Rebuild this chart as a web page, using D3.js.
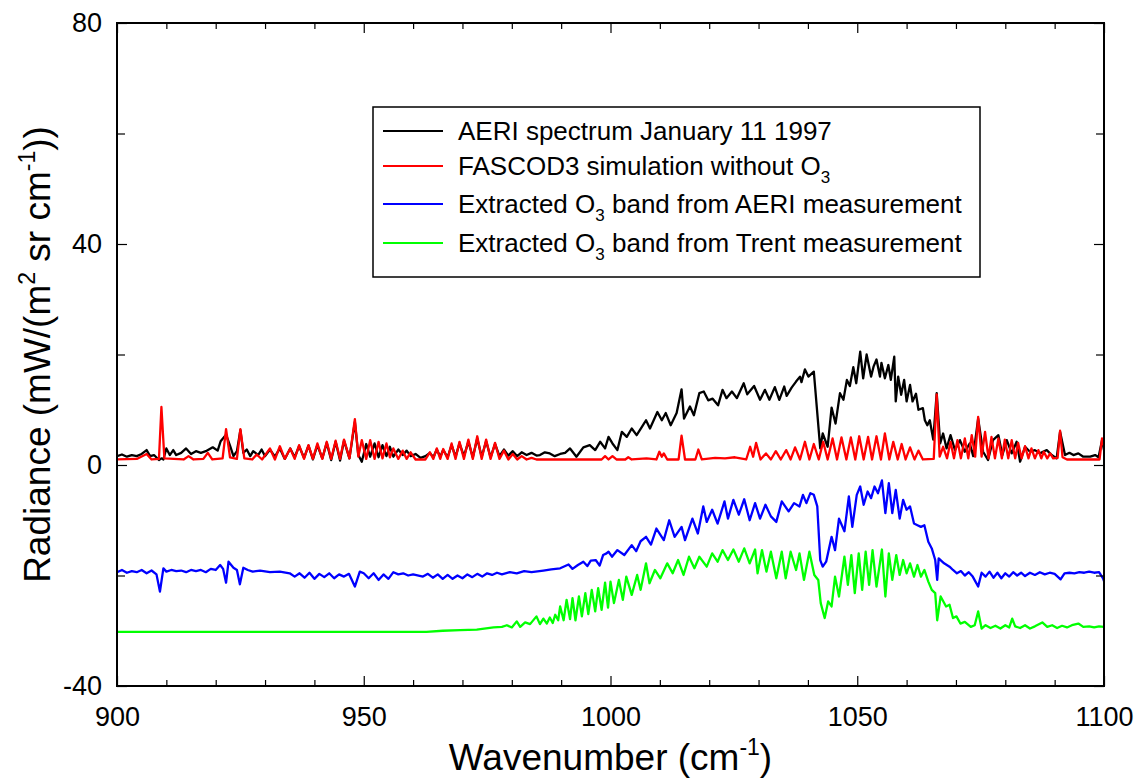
<!DOCTYPE html>
<html>
<head>
<meta charset="utf-8">
<script src="https://cdn.jsdelivr.net/npm/d3@7"></script>
<style>
  body { margin: 0; background: #fff; }
  svg { display: block; font-family: "Liberation Sans", Arial, sans-serif; }
</style>
</head>
<body>
<svg id="chart" width="1137" height="780"></svg>
<script>
// tick values
var xTicks = [900, 950, 1000, 1050, 1100];
var xMinor = [910, 920, 930, 940, 960, 970, 980, 990, 1010, 1020, 1030, 1040, 1060, 1070, 1080, 1090];
var yTicks = [-40, 0, 40, 80];
var yMinor = [-20, 20, 60];

// AERI spectrum, [wavenumber, radiance]
var aeri = [[900,1.6],[901,1.9],[902,1.5],[903,1.8],[904,1.6],[905,2.0],[906,2.7],[906.7,1.6],[907.5,1.8],[908.5,0.9],[909,1.2],[909.4,1.0],[910,3.0],[910.7,1.8],[911.4,2.7],[912,1.8],[913,2.2],[914,3.0],[915,2.0],[916,2.5],[917,2.2],[918,2.5],[919.4,3.2],[920.4,2.6],[921,4.3],[922.1,5.5],[922.9,3.5],[923.6,1.6],[924.3,2.5],[925,6.3],[925.6,2.2],[926.3,2.8],[927,1.6],[927.6,2.5],[928.6,1.8],[929.3,2.8],[930,1.6],[931,2.8],[932,1.5],[933,3.0],[934,1.1],[935.1,3.0],[936,1.4],[936.9,3.4],[937.9,1.3],[938.8,3.5],[939.7,1.0],[940.6,3.6],[941.6,1.2],[942.5,4.0],[943.4,0.9],[944.3,4.2],[945.2,0.8],[946,4.4],[947.1,1.2],[948.2,7.8],[948.9,1.8],[949.6,0.6],[950.5,3.8],[951.3,1.5],[952.2,3.9],[953,1.4],[953.8,3.6],[954.6,1.6],[955.3,3.3],[956,1.5],[957,2.8],[957.9,1.8],[958.7,2.6],[959.5,1.6],[960.5,2.0],[961.5,1.3],[962.5,1.6],[963.4,2.2],[964.1,1.4],[964.8,2.8],[965.5,1.5],[966.1,2.7],[967,1.4],[967.8,3.6],[968.6,1.5],[969.4,3.9],[970.3,1.6],[971.2,4.2],[972.1,1.4],[973,4.8],[973.9,1.5],[974.8,4.3],[975.7,1.4],[976.6,3.8],[977.5,1.6],[978.4,2.8],[979.3,1.7],[980.2,2.5],[981.1,1.6],[982,2.3],[983,1.8],[984,2.2],[985,1.7],[985.7,1.8],[986.7,2.3],[987.7,2.1],[988.7,1.6],[989.8,2.0],[990.8,2.2],[991.8,3.0],[993.1,1.5],[994.5,3.2],[995.8,3.6],[996.9,2.7],[997.9,4.2],[998.9,3.0],[999.6,5.1],[1000.4,3.9],[1001.4,2.7],[1002.3,6.0],[1003.3,5.1],[1004.3,6.6],[1005.3,5.4],[1006.3,6.8],[1007.2,8.1],[1008,6.6],[1009.5,9.6],[1010.4,8.1],[1011.2,9.4],[1012.2,7.2],[1013.4,9.4],[1014.4,13.7],[1014.9,8.4],[1016.1,10.6],[1016.9,9.0],[1018,13.0],[1018.9,13.3],[1019.8,11.7],[1020.7,12.0],[1021.8,10.8],[1022.7,13.6],[1023.5,12.1],[1024.6,13.3],[1025.6,12.1],[1027,14.8],[1027.7,12.8],[1029.1,14.3],[1030.3,11.8],[1031.3,13.6],[1032.2,11.8],[1033.3,14.1],[1034.2,11.8],[1035.2,14.2],[1035.7,12.5],[1036.7,14.0],[1037.6,15.1],[1038.4,16.0],[1038.7,15.0],[1039.4,17.3],[1040.1,16.0],[1041.2,16.9],[1042.5,3.0],[1043,5.7],[1044,3.3],[1044.8,10.4],[1045.6,7.5],[1046.5,13.0],[1047.2,11.8],[1047.9,15.4],[1048.5,14.3],[1049.2,17.7],[1049.8,14.8],[1050.6,20.5],[1051.2,15.7],[1051.9,20.0],[1052.8,16.0],[1053.3,17.8],[1053.9,19.1],[1054.6,16.0],[1054.9,18.5],[1055.6,15.7],[1056.3,18.1],[1056.8,15.4],[1057.5,19.6],[1057.8,11.5],[1058.3,16.0],[1058.9,12.7],[1059.5,15.4],[1060,11.5],[1060.7,14.5],[1061.2,11.5],[1061.9,12.9],[1062.4,10.0],[1063.3,10.3],[1063.7,8.1],[1064.2,7.2],[1064.7,8.1],[1065.4,4.6],[1066.1,13.0],[1066.8,3.9],[1067.4,5.7],[1068.1,3.0],[1068.9,5.4],[1069.8,2.7],[1070.8,4.5],[1071.8,2.4],[1072.8,3.9],[1073.5,1.6],[1074.5,8.4],[1075.5,2.4],[1076.5,0.9],[1077.5,4.5],[1078.6,5.4],[1079.4,1.8],[1080.3,4.5],[1081.3,2.1],[1082.3,4.2],[1083,0.6],[1084,3.3],[1085,2.4],[1086,2.7],[1087,2.1],[1088.4,2.7],[1089.4,1.8],[1090.4,1.2],[1091.1,6.0],[1092.1,1.8],[1093,2.2],[1093.8,1.8],[1094.8,2.1],[1095.8,1.5],[1097.2,1.5],[1098.2,1.8],[1098.9,1.4],[1099.6,4.5],[1100,2.7]];

// FASCOD3 simulation without O3
var fascod = [[900,1.0],[904,1.1],[906,2.0],[907,1.0],[908.5,1.1],[909,10.5],[909.6,1.2],[913.5,1.0],[914.5,1.6],[915.5,1.0],[917.5,1.1],[918.4,2.2],[919.3,1.0],[921.4,1.2],[922.1,6.5],[922.9,1.4],[924.3,1.1],[925,6.5],[925.8,1.2],[927.4,1.0],[928.3,1.9],[929.4,1.0],[931,3.0],[932,1.0],[933,3.4],[934,1.1],[935.1,3.0],[936,1.1],[936.9,3.6],[937.9,1.1],[938.8,3.6],[939.7,1.1],[940.6,3.9],[941.6,1.1],[942.5,4.2],[943.4,1.1],[944.3,4.4],[945.2,1.1],[946,4.6],[947.1,1.2],[948.2,8.3],[948.9,1.5],[949.6,4.5],[950.5,1.1],[951.3,4.5],[952.2,1.1],[953,4.2],[953.8,1.2],[954.6,3.9],[955.3,1.4],[956,3.0],[957,1.1],[957.9,2.6],[958.7,1.1],[959.5,2.3],[960.5,1.0],[962.5,1.0],[963.4,2.3],[964.1,1.1],[964.8,3.0],[965.5,1.1],[966.1,2.9],[967,1.1],[967.8,3.9],[968.6,1.1],[969.4,4.2],[970.3,1.1],[971.2,4.6],[972.1,1.1],[973,5.2],[973.9,1.1],[974.8,4.6],[975.7,1.1],[976.6,4.0],[977.5,1.1],[978.4,2.6],[979.3,1.0],[980.2,2.0],[981.1,1.0],[982,1.6],[983,1.0],[984,1.3],[985,1.0],[998.2,1.0],[998.9,1.6],[999.6,1.0],[1000.4,1.6],[1001.2,1.0],[1003,1.0],[1003.6,1.4],[1004.3,1.0],[1007.3,1.2],[1009.3,1.0],[1009.9,2.4],[1010.4,1.5],[1010.8,2.1],[1011.5,1.0],[1013.8,1.0],[1014.4,5.3],[1015.1,1.0],[1017.2,1.0],[1017.8,2.8],[1018.5,1.0],[1021.2,1.3],[1023.2,1.2],[1025.2,1.4],[1027.5,1.0],[1028.3,3.3],[1028.9,1.5],[1029.5,4.0],[1030.4,1.0],[1031.5,2.1],[1032.5,1.0],[1033.5,2.5],[1034.5,1.0],[1035.6,2.7],[1036.5,1.0],[1037.4,3.2],[1038.4,1.0],[1039.4,4.2],[1040.3,1.0],[1041.2,3.8],[1042.2,1.0],[1043.1,4.2],[1044,1.0],[1045,4.8],[1045.9,1.0],[1046.8,5.0],[1047.8,1.0],[1048.7,5.0],[1049.6,1.0],[1050.4,5.2],[1051.3,1.0],[1052.2,5.1],[1053,1.0],[1053.9,5.2],[1054.8,1.0],[1055.6,5.7],[1056.5,1.0],[1057.3,4.2],[1058.2,1.0],[1059,3.8],[1059.8,1.0],[1060.7,3.2],[1061.6,1.0],[1062.4,2.6],[1063.3,1.0],[1065.5,1.1],[1066.1,12.8],[1066.7,1.5],[1067.4,3.3],[1068.2,1.2],[1068.9,4.2],[1069.6,1.2],[1070.3,4.5],[1071,1.2],[1071.8,4.8],[1072.5,1.2],[1073.2,5.4],[1073.9,1.5],[1074.5,8.7],[1075.2,1.5],[1075.9,6.0],[1076.6,1.2],[1077.2,5.1],[1077.9,1.2],[1078.6,4.8],[1079.3,1.2],[1079.9,4.6],[1080.6,1.2],[1081.3,4.5],[1082,1.2],[1082.6,4.0],[1083.3,1.2],[1084,3.4],[1084.7,1.2],[1085.3,3.0],[1086,1.2],[1086.7,2.7],[1087.3,1.2],[1087.8,2.4],[1088.5,1.2],[1089.1,2.1],[1089.7,1.2],[1090.6,1.3],[1091.1,6.2],[1091.6,1.4],[1092.5,1.0],[1099.1,1.0],[1099.6,4.8],[1100,3.5]];

// extracted O3 band from AERI measurement
var o3Aeri = [[900,-19.4],[901,-19.0],[902,-19.5],[903,-19.2],[904,-19.4],[905,-19.0],[906,-19.6],[907,-19.1],[908,-19.8],[908.7,-22.9],[909.4,-18.7],[910,-19.3],[911,-19.0],[912,-19.2],[913,-19.1],[914,-19.4],[915,-19.0],[916,-19.2],[917,-19.0],[918,-19.4],[919,-18.8],[920,-19.0],[920.9,-18.1],[921.5,-18.8],[922.1,-21.3],[922.6,-17.5],[923.6,-18.6],[924.3,-19.0],[924.9,-21.6],[925.6,-18.6],[926.5,-19.0],[927.5,-19.3],[929,-19.1],[931,-19.4],[933,-19.3],[935,-19.6],[936,-20.2],[937,-19.6],[938,-20.4],[939,-19.5],[940,-20.6],[941,-19.7],[942,-20.3],[943,-19.6],[944,-20.5],[945,-19.8],[946,-20.2],[947,-19.7],[948.2,-22.0],[949.2,-19.3],[950,-19.6],[951,-20.5],[952,-19.6],[953,-20.8],[954,-19.8],[955,-20.6],[956,-19.4],[957,-19.8],[958,-19.6],[959,-20.0],[960,-19.8],[962,-20.2],[963,-19.7],[964,-20.4],[965,-19.8],[966,-20.6],[967,-19.9],[968,-20.6],[969,-20.0],[970,-20.5],[971,-19.8],[972,-20.3],[973,-19.7],[974,-20.2],[975,-19.6],[976,-19.9],[977,-19.5],[978,-19.8],[979.6,-19.4],[981,-19.6],[982.5,-19.2],[984,-19.4],[986.4,-19.1],[988,-18.9],[989.8,-18.7],[991.5,-18.0],[992.3,-18.8],[993.4,-18.1],[994.5,-17.5],[995.3,-18.3],[996,-17.3],[997,-17.2],[997.8,-18.2],[998.5,-16.3],[999.2,-16.0],[999.6,-15.7],[1000.3,-16.6],[1001.4,-15.4],[1002.8,-16.3],[1004.3,-14.5],[1005.2,-15.6],[1006.1,-13.8],[1007.2,-13.0],[1008.2,-14.4],[1009.3,-11.5],[1010.8,-13.6],[1011.9,-10.0],[1013,-13.0],[1014.4,-11.2],[1015.1,-13.6],[1016.6,-9.7],[1017.7,-12.4],[1018.8,-7.5],[1019.5,-10.3],[1020.6,-8.1],[1021.7,-10.6],[1023.1,-6.6],[1023.8,-9.7],[1024.9,-6.3],[1026,-9.0],[1027.1,-6.2],[1028.2,-10.0],[1029.3,-6.9],[1030.3,-9.7],[1031.4,-7.2],[1032.5,-9.3],[1033.6,-10.3],[1034.7,-6.6],[1036.1,-8.4],[1037.2,-6.9],[1038.3,-7.5],[1039,-5.4],[1039.7,-6.9],[1040.5,-5.1],[1041.2,-5.4],[1041.9,-7.5],[1042.5,-17.2],[1043,-18.4],[1043.7,-17.5],[1044.8,-13.0],[1045.5,-15.4],[1046.3,-9.7],[1047.4,-12.0],[1048.3,-5.7],[1049,-11.2],[1049.9,-5.4],[1050.6,-3.9],[1051.3,-7.2],[1052.1,-4.8],[1052.8,-6.0],[1053.5,-3.9],[1054.2,-5.1],[1055,-2.8],[1055.7,-8.7],[1056.4,-3.3],[1057.1,-8.7],[1057.8,-4.5],[1058.6,-9.7],[1059.3,-6.3],[1060,-8.1],[1060.7,-7.5],[1061.5,-10.6],[1062.2,-10.9],[1062.9,-11.2],[1063.6,-10.9],[1064.4,-13.9],[1065.1,-15.1],[1065.8,-17.2],[1066.2,-20.8],[1066.5,-16.9],[1067.6,-17.8],[1068.7,-18.4],[1069.4,-19.0],[1070.2,-19.6],[1071,-19.2],[1071.8,-20.0],[1072.6,-19.4],[1073.4,-20.2],[1074.5,-22.0],[1075.2,-19.5],[1076,-20.2],[1076.8,-19.3],[1077.6,-20.4],[1078.4,-19.5],[1079.2,-20.5],[1080,-19.6],[1080.8,-20.2],[1081.6,-19.4],[1082.4,-20.0],[1083.2,-19.5],[1084,-20.1],[1085,-19.5],[1086,-19.9],[1087,-19.4],[1088,-19.8],[1089,-19.5],[1090,-19.7],[1091.2,-20.7],[1092,-19.6],[1093,-19.5],[1094,-19.6],[1095,-19.4],[1096,-19.5],[1097,-19.3],[1098,-19.5],[1099,-19.4],[1099.8,-20.5],[1100,-21.0]];

// extracted O3 band from Trent measurement
var o3Trent = [[900,-30.2],[920,-30.2],[940,-30.2],[955,-30.2],[962.7,-30.2],[966,-30.0],[969.5,-29.9],[972.9,-29.8],[976.3,-29.4],[978,-29.3],[979,-29.0],[980,-29.4],[981,-28.3],[981.7,-29.3],[982.7,-28.5],[983.7,-28.8],[985,-27.4],[985.7,-28.8],[986.4,-27.8],[987.1,-28.7],[987.7,-27.6],[988.3,-28.6],[988.8,-27.1],[989.4,-28.1],[989.8,-25.6],[990.5,-28.1],[991.1,-24.4],[991.8,-27.9],[992.3,-24.1],[992.9,-28.1],[993.6,-23.8],[994.2,-27.4],[994.9,-23.2],[995.5,-27.0],[996.2,-22.6],[996.9,-26.5],[997.5,-22.3],[998.2,-26.2],[998.9,-21.3],[999.5,-25.8],[1000,-21.1],[1000.7,-25.0],[1001.7,-20.8],[1002.5,-24.4],[1003.2,-20.2],[1004.3,-23.5],[1005.4,-19.9],[1006.1,-22.6],[1007.2,-17.8],[1007.9,-21.4],[1009,-19.0],[1010.1,-20.5],[1011.5,-17.8],[1012.6,-19.6],[1013.7,-17.2],[1014.8,-19.9],[1015.9,-16.6],[1017,-18.7],[1018,-16.6],[1019.5,-18.4],[1020.6,-16.0],[1021.7,-17.5],[1022.7,-15.4],[1023.8,-17.2],[1024.9,-15.3],[1026,-17.5],[1027.1,-15.1],[1028.2,-17.8],[1029.3,-15.3],[1029.8,-19.6],[1030.7,-15.4],[1031.6,-19.3],[1032.5,-15.7],[1033.6,-20.5],[1034.7,-15.7],[1035.5,-20.5],[1036.5,-15.7],[1037.6,-19.0],[1038.3,-16.0],[1039.2,-20.8],[1040.3,-15.7],[1041.3,-19.9],[1042.1,-20.8],[1042.6,-25.0],[1043.4,-27.7],[1044.1,-24.7],[1044.8,-25.6],[1045.5,-20.2],[1046.3,-23.8],[1047.4,-16.6],[1048.1,-21.7],[1048.8,-16.3],[1049.5,-23.2],[1050.3,-16.0],[1051,-22.6],[1051.7,-15.7],[1052.4,-21.7],[1053.1,-15.4],[1053.9,-22.0],[1055,-15.3],[1055.7,-23.8],[1056.4,-16.0],[1057.1,-20.8],[1057.9,-16.3],[1058.6,-19.9],[1059.3,-17.2],[1060,-19.6],[1060.7,-17.8],[1061.5,-20.2],[1062.2,-18.1],[1062.9,-20.2],[1063.6,-19.0],[1064.4,-21.1],[1065.1,-22.6],[1065.8,-23.2],[1066.2,-28.1],[1066.9,-23.8],[1068,-25.6],[1068.7,-25.3],[1069.4,-27.7],[1070.1,-27.4],[1070.9,-28.7],[1071.8,-28.4],[1073,-29.3],[1073.8,-29.0],[1074.5,-26.5],[1075.2,-29.6],[1076,-29.0],[1077,-29.5],[1078,-29.1],[1079,-29.6],[1080,-29.0],[1080.8,-29.4],[1081.4,-27.8],[1082,-29.2],[1083,-29.5],[1084,-29.0],[1085,-29.6],[1086,-29.2],[1087.5,-28.5],[1088.5,-29.3],[1089.5,-29.0],[1090.5,-29.5],[1091.5,-29.1],[1092.5,-29.4],[1093.5,-29.0],[1094.8,-28.7],[1095.8,-29.3],[1097,-29.2],[1098,-29.4],[1099,-29.2],[1100,-29.3]];

var seriesColors = ['#000000', '#ff0000', '#0000ff', '#00ff00'];
var legendLabels = [
  [['AERI spectrum January 11 1997', false]],
  [['FASCOD3 simulation without O', false], ['3', true]],
  [['Extracted O', false], ['3', true], [' band from AERI measurement', false]],
  [['Extracted O', false], ['3', true], [' band from Trent measurement', false]]
];

var svg = d3.select('#chart'),
    margin = {top: 23, right: 33, bottom: 94, left: 117},
    width = 1137 - margin.left - margin.right,
    height = 780 - margin.top - margin.bottom,
    g = svg.append('g').attr('transform', 'translate(' + margin.left + ',' + margin.top + ')');

var x = d3.scaleLinear().domain([900, 1100]).range([0, width]);
var y = d3.scaleLinear().domain([-40, 80]).range([height, 0]);

g.append('clipPath').attr('id', 'clip')
  .append('rect').attr('width', width).attr('height', height);

var line = d3.line()
    .x(function(d) { return x(d[0]); })
    .y(function(d) { return y(d[1]); });

g.append('g')
    .attr('clip-path', 'url(#clip)')
  .selectAll('path')
  .data([aeri, fascod, o3Aeri, o3Trent])
  .enter().append('path')
    .attr('fill', 'none')
    .attr('stroke', function(d, i) { return seriesColors[i]; })
    .attr('stroke-width', 2.3)
    .attr('stroke-linejoin', 'round')
    .attr('d', line);

// axes: ticks point inward on all four sides, plain hyphen for negatives
var plain = function(d) { return String(d); };

function styleAxis(sel) {
  sel.select('.domain').remove();
  sel.selectAll('.tick line').attr('stroke', '#000').attr('stroke-width', 1.2);
  sel.selectAll('text').attr('fill', '#000').attr('font-size', 27)
    .attr('font-family', '"Liberation Sans", Arial, sans-serif');
}

g.append('g').attr('transform', 'translate(0,' + height + ')')
  .call(d3.axisBottom(x).tickValues(xTicks).tickSizeInner(-10).tickSizeOuter(0).tickPadding(21).tickFormat(plain))
  .call(styleAxis);
g.append('g').attr('transform', 'translate(0,' + height + ')')
  .call(d3.axisBottom(x).tickValues(xMinor).tickSizeInner(-6).tickSizeOuter(0).tickFormat(''))
  .call(styleAxis);
g.append('g')
  .call(d3.axisTop(x).tickValues(xTicks).tickSizeInner(-10).tickSizeOuter(0).tickFormat(''))
  .call(styleAxis);
g.append('g')
  .call(d3.axisTop(x).tickValues(xMinor).tickSizeInner(-6).tickSizeOuter(0).tickFormat(''))
  .call(styleAxis);
g.append('g')
  .call(d3.axisLeft(y).tickValues(yTicks).tickSizeInner(-10).tickSizeOuter(0).tickPadding(15).tickFormat(plain))
  .call(styleAxis);
g.append('g')
  .call(d3.axisLeft(y).tickValues(yMinor).tickSizeInner(-8).tickSizeOuter(0).tickFormat(''))
  .call(styleAxis);
g.append('g').attr('transform', 'translate(' + width + ',0)')
  .call(d3.axisRight(y).tickValues(yTicks).tickSizeInner(-10).tickSizeOuter(0).tickFormat(''))
  .call(styleAxis);
g.append('g').attr('transform', 'translate(' + width + ',0)')
  .call(d3.axisRight(y).tickValues(yMinor).tickSizeInner(-8).tickSizeOuter(0).tickFormat(''))
  .call(styleAxis);

// plot frame
g.append('rect')
    .attr('width', width).attr('height', height)
    .attr('fill', 'none').attr('stroke', '#000').attr('stroke-width', 2);

// axis titles
var xTitle = svg.append('text')
    .attr('x', margin.left + width / 2).attr('y', 770)
    .attr('text-anchor', 'middle').attr('font-size', 37).attr('fill', '#000');
xTitle.append('tspan').text('Wavenumber (cm');
xTitle.append('tspan').attr('font-size', 23).attr('dy', -15).text('-1');
xTitle.append('tspan').attr('dy', 15).text(')');

var yTitle = svg.append('text')
    .attr('transform', 'translate(50,' + (margin.top + height / 2) + ') rotate(-90)')
    .attr('text-anchor', 'middle').attr('font-size', 37).attr('fill', '#000');
yTitle.append('tspan').text('Radiance (mW/(m');
yTitle.append('tspan').attr('font-size', 23).attr('dy', -15).text('2');
yTitle.append('tspan').attr('dy', 15).text(' sr cm');
yTitle.append('tspan').attr('font-size', 23).attr('dy', -15).text('-1');
yTitle.append('tspan').attr('dy', 15).text('))');

// legend
var legend = svg.append('g').attr('transform', 'translate(373,107)');
legend.append('rect')
    .attr('width', 607).attr('height', 170)
    .attr('fill', '#fff').attr('stroke', '#000').attr('stroke-width', 1.5);

var rowY = [24, 59, 97, 136];
var rows = legend.selectAll('.row')
    .data(legendLabels)
  .enter().append('g')
    .attr('class', 'row')
    .attr('transform', function(d, i) { return 'translate(0,' + rowY[i] + ')'; });

rows.append('line')
    .attr('x1', 10).attr('x2', 70)
    .attr('stroke', function(d, i) { return seriesColors[i]; })
    .attr('stroke-width', 2);

rows.append('text')
    .attr('x', 85).attr('dy', '0.36em')
    .attr('font-size', 26).attr('fill', '#000')
  .each(function(parts) {
    var t = d3.select(this);
    parts.forEach(function(p) {
      if (p[1]) {
        t.append('tspan').attr('font-size', 17).attr('dy', 8).text(p[0]);
      } else {
        var s = t.append('tspan').text(p[0]);
        if (t.selectAll('tspan').size() > 1) s.attr('dy', -8);
      }
    });
  });
</script>
</body>
</html>
